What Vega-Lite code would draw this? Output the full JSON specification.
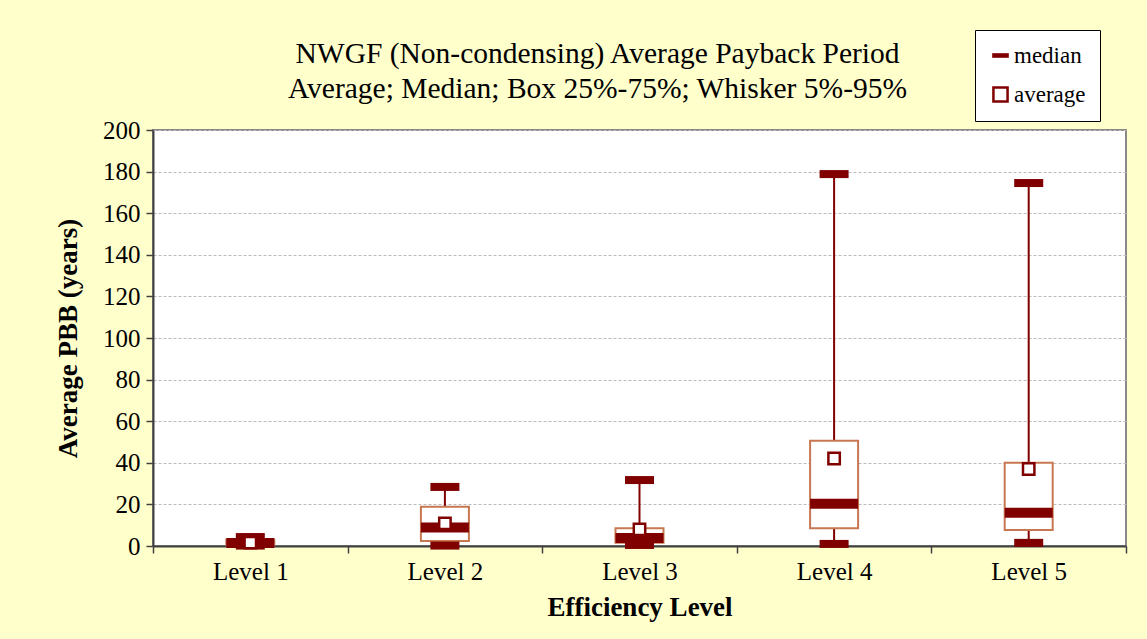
{
  "$schema": "https://vega.github.io/schema/vega-lite/v6.json",
  "width": 973,
  "height": 416,
  "autosize": {"type": "none"},
  "padding": {"left": 153, "top": 130, "right": 21, "bottom": 93},
  "background": "#FFFFCC",
  "title": {
    "text": ["NWGF (Non-condensing) Average Payback Period", "Average; Median; Box 25%-75%; Whisker 5%-95%"],
    "font": "Liberation Serif",
    "fontSize": 29.5,
    "fontWeight": "normal",
    "color": "black",
    "anchor": "middle",
    "frame": "group",
    "dx": -42,
    "lineHeight": 35,
    "offset": -75
  },
  "config": {
    "view": {"fill": "white", "stroke": "#888888", "strokeWidth": 2},
    "axis": {
      "labelFont": "Liberation Serif",
      "labelFontSize": 25,
      "labelColor": "black",
      "titleFont": "Liberation Serif",
      "titleFontSize": 27,
      "titleFontWeight": "bold",
      "titleColor": "black",
      "domainColor": "#404040",
      "domainWidth": 2,
      "tickColor": "#404040",
      "tickWidth": 1.5,
      "tickSize": 7
    },
    "legend": {
      "title": null,
      "orient": "none",
      "legendX": 822,
      "legendY": -100,
      "fillColor": "white",
      "strokeColor": "black",
      "padding": 14,
      "rowPadding": 14,
      "labelFont": "Liberation Serif",
      "labelFontSize": 23,
      "labelColor": "black",
      "labelOffset": 2,
      "symbolSize": 200,
      "symbolFillColor": "white",
      "symbolStrokeColor": "#800000",
      "symbolStrokeWidth": 2.5
    }
  },
  "data": {
    "values": [
      {"level": "Level 1", "p5": 0.2, "p25": 0.5, "median": 1.5, "p75": 3.0, "p95": 4.3, "average": 1.6},
      {"level": "Level 2", "p5": 0.2, "p25": 2.4, "median": 8.9, "p75": 18.9, "p95": 28.4, "average": 10.9},
      {"level": "Level 3", "p5": 0.5, "p25": 1.6, "median": 3.8, "p75": 8.5, "p95": 31.7, "average": 8.0},
      {"level": "Level 4", "p5": 1.0, "p25": 8.5, "median": 20.3, "p75": 50.6, "p95": 178.8, "average": 42.1},
      {"level": "Level 5", "p5": 1.5, "p25": 7.7, "median": 16.0, "p75": 40.0, "p95": 174.5, "average": 37.0}
    ]
  },
  "encoding": {
    "x": {
      "field": "level",
      "type": "nominal",
      "sort": null,
      "scale": {"paddingInner": 0, "paddingOuter": 0},
      "axis": {"title": "Efficiency Level", "labelAngle": 0, "tickBand": "extent", "labelPadding": 6, "titlePadding": 10}
    }
  },
  "layer": [
    {
      "mark": {"type": "rule", "color": "#800000", "strokeWidth": 2},
      "encoding": {
        "y": {
          "field": "p5",
          "type": "quantitative",
          "scale": {"domain": [0, 200], "nice": false},
          "axis": {
            "title": "Average PBB (years)",
            "values": [0, 20, 40, 60, 80, 100, 120, 140, 160, 180, 200],
            "grid": true,
            "gridColor": "#BBBBBB",
            "gridDash": [3, 2],
            "gridWidth": 1,
            "labelPadding": 6,
            "titlePadding": 20
          }
        },
        "y2": {"field": "p95"}
      }
    },
    {
      "mark": {"type": "bar", "width": 48, "fill": "white", "stroke": "#C87850", "strokeWidth": 2},
      "encoding": {
        "y": {"field": "p25", "type": "quantitative"},
        "y2": {"field": "p75"}
      }
    },
    {
      "mark": {"type": "tick", "color": "#800000", "size": 29, "thickness": 8, "opacity": 1},
      "encoding": {"y": {"field": "p5", "type": "quantitative"}}
    },
    {
      "mark": {"type": "tick", "color": "#800000", "size": 29, "thickness": 8, "opacity": 1},
      "encoding": {"y": {"field": "p95", "type": "quantitative"}}
    },
    {
      "mark": {"type": "tick", "color": "#800000", "size": 48, "thickness": 10, "opacity": 1},
      "encoding": {
        "y": {"field": "median", "type": "quantitative"}
      }
    },
    {
      "mark": {"type": "point", "filled": false, "fill": "white", "size": 130, "strokeWidth": 2.5, "opacity": 1},
      "encoding": {
        "y": {"field": "average", "type": "quantitative"},
        "stroke": {
          "datum": "average",
          "scale": {"domain": ["median", "average"], "range": ["#800000", "#800000"]}
        },
        "shape": {
          "datum": "average",
          "scale": {"domain": ["median", "average"], "range": ["M-1,-0.15H1V0.15H-1Z", "square"]}
        }
      }
    }
  ]
}
